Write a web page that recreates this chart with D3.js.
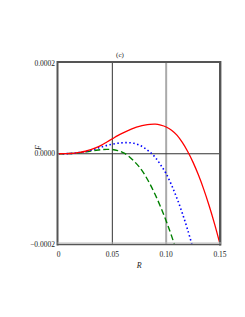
<!DOCTYPE html>
<html>
<head>
<meta charset="utf-8">
<script src="https://cdn.jsdelivr.net/npm/d3@7"></script>
<style>
  body { margin: 0; background: #fff; }
  text { font-family: "Liberation Serif", "DejaVu Serif", serif; fill: #1a1a1a; }
</style>
</head>
<body>
<div id="chart"></div>
<script>
// F(R) curves, values in units of 1e-4
const redR = [0, 0.005, 0.01, 0.015, 0.02, 0.025, 0.03, 0.035, 0.04, 0.045, 0.05, 0.055, 0.06, 0.065, 0.07, 0.075, 0.08, 0.085, 0.09, 0.095, 0.1, 0.105, 0.11, 0.115, 0.12, 0.125, 0.13, 0.135, 0.14, 0.145, 0.15];
const redF = [0, 0.001, 0.006, 0.015, 0.03, 0.055, 0.09, 0.135, 0.19, 0.26, 0.33, 0.40, 0.46, 0.515, 0.565, 0.603, 0.631, 0.648, 0.652, 0.63, 0.59, 0.52, 0.41, 0.25, 0.05, -0.19, -0.47, -0.79, -1.15, -1.55, -1.99];

const blueR = [0, 0.005, 0.01, 0.015, 0.02, 0.025, 0.03, 0.035, 0.04, 0.045, 0.05, 0.055, 0.06, 0.065, 0.07, 0.075, 0.08, 0.085, 0.09, 0.095, 0.1, 0.105, 0.11, 0.115, 0.12, 0.125];
const blueF = [0, 0.001, 0.005, 0.014, 0.03, 0.05, 0.08, 0.115, 0.15, 0.185, 0.21, 0.232, 0.243, 0.245, 0.23, 0.19, 0.125, 0.035, -0.085, -0.25, -0.44, -0.69, -0.98, -1.31, -1.68, -2.09];

const greenR = [0, 0.005, 0.01, 0.015, 0.02, 0.025, 0.03, 0.035, 0.04, 0.045, 0.05, 0.055, 0.06, 0.065, 0.07, 0.075, 0.08, 0.085, 0.09, 0.095, 0.1, 0.105, 0.11];
const greenF = [0, 0.001, 0.004, 0.012, 0.025, 0.04, 0.06, 0.077, 0.09, 0.097, 0.093, 0.07, 0.025, -0.05, -0.16, -0.29, -0.46, -0.67, -0.91, -1.18, -1.48, -1.81, -2.17];

const xTicks = [0, 0.05, 0.10, 0.15];
const xTickLabels = ["0", "0.05", "0.10", "0.15"];
const yTicks = [-2, 0, 2];
const yTickLabels = ["\u22120.0002", "0.0000", "0.0002"];

const W = 245, H = 317;
const m = { left: 58.5, right: 220, top: 63, bottom: 244.5 };

const svg = d3.select("#chart").append("svg")
    .attr("width", W)
    .attr("height", H);

const x = d3.scaleLinear().domain([0, 0.15]).range([m.left, m.right]);
const y = d3.scaleLinear().domain([-2, 2]).range([m.bottom, m.top]);

svg.append("defs").append("clipPath").attr("id", "clip")
    .append("rect")
    .attr("x", m.left).attr("y", m.top)
    .attr("width", m.right - m.left).attr("height", m.bottom - m.top);

// grid lines
svg.append("line")
    .attr("x1", x(0.05)).attr("x2", x(0.05))
    .attr("y1", m.top).attr("y2", m.bottom)
    .style("stroke", "#333").style("stroke-width", 1);
svg.append("line")
    .attr("x1", x(0.10)).attr("x2", x(0.10))
    .attr("y1", m.top).attr("y2", m.bottom)
    .style("stroke", "#aaa").style("stroke-width", 2);
svg.append("line")
    .attr("x1", m.left).attr("x2", m.right)
    .attr("y1", y(0)).attr("y2", y(0))
    .style("stroke", "#333").style("stroke-width", 1);

// curves
const line = d3.line()
    .x(d => x(d[0]))
    .y(d => y(d[1]))
    .curve(d3.curveCatmullRom.alpha(0.5));

const series = [
    { r: greenR, f: greenF, color: "#008000", dash: "6,3", w: 1.4 },
    { r: blueR, f: blueF, color: "#0000ff", dash: "1.5,2.5", w: 1.6 },
    { r: redR, f: redF, color: "#ff0000", dash: null, w: 1.3 }
];

series.forEach(s => {
    svg.append("path")
        .datum(d3.zip(s.r, s.f))
        .attr("clip-path", "url(#clip)")
        .attr("d", line)
        .style("fill", "none")
        .style("stroke", s.color)
        .style("stroke-width", s.w)
        .style("stroke-dasharray", s.dash);
});

// frame
svg.append("line")
    .attr("x1", m.left - 1).attr("x2", m.right + 1)
    .attr("y1", m.top - 1).attr("y2", m.top - 1)
    .style("stroke", "#555").style("stroke-width", 2);
svg.append("line")
    .attr("x1", m.left - 1).attr("x2", m.left - 1)
    .attr("y1", m.top - 2).attr("y2", m.bottom + 1)
    .style("stroke", "#555").style("stroke-width", 2);
svg.append("line")
    .attr("x1", m.right).attr("x2", m.right)
    .attr("y1", m.top - 2).attr("y2", m.bottom + 1)
    .style("stroke", "#555").style("stroke-width", 2);
svg.append("line")
    .attr("x1", m.right + 1.5).attr("x2", m.right + 1.5)
    .attr("y1", m.top - 2).attr("y2", m.bottom + 1)
    .style("stroke", "#bbb").style("stroke-width", 1);
svg.append("line")
    .attr("x1", m.left - 1).attr("x2", m.right + 1)
    .attr("y1", m.bottom).attr("y2", m.bottom)
    .style("stroke", "#555").style("stroke-width", 1.5);
svg.append("line")
    .attr("x1", m.left - 1).attr("x2", m.right + 1)
    .attr("y1", m.bottom - 1.5).attr("y2", m.bottom - 1.5)
    .style("stroke", "#bbb").style("stroke-width", 1);

// tick labels
svg.selectAll(".ylab")
    .data(yTicks)
    .join("text")
    .attr("class", "ylab")
    .attr("x", m.left - 3.5)
    .attr("y", d => y(d) + 2.5)
    .attr("text-anchor", "end")
    .attr("font-size", 7.5)
    .text((d, i) => yTickLabels[i]);

svg.selectAll(".xlab")
    .data(xTicks)
    .join("text")
    .attr("class", "xlab")
    .attr("x", d => x(d))
    .attr("y", m.bottom + 12)
    .attr("text-anchor", "middle")
    .attr("font-size", 7.5)
    .text((d, i) => xTickLabels[i]);

// axis titles and panel label
svg.append("text")
    .attr("x", (m.left + m.right) / 2)
    .attr("y", m.bottom + 23)
    .attr("text-anchor", "middle")
    .attr("font-size", 8)
    .attr("font-style", "italic")
    .text("R");

svg.append("text")
    .attr("transform", "translate(40.5,147.5) rotate(-90)")
    .attr("text-anchor", "middle")
    .attr("font-size", 8)
    .attr("font-style", "italic")
    .text("F");

svg.append("text")
    .attr("x", 120)
    .attr("y", 57)
    .attr("text-anchor", "middle")
    .attr("font-size", 7)
    .text("(c)");
</script>
</body>
</html>
